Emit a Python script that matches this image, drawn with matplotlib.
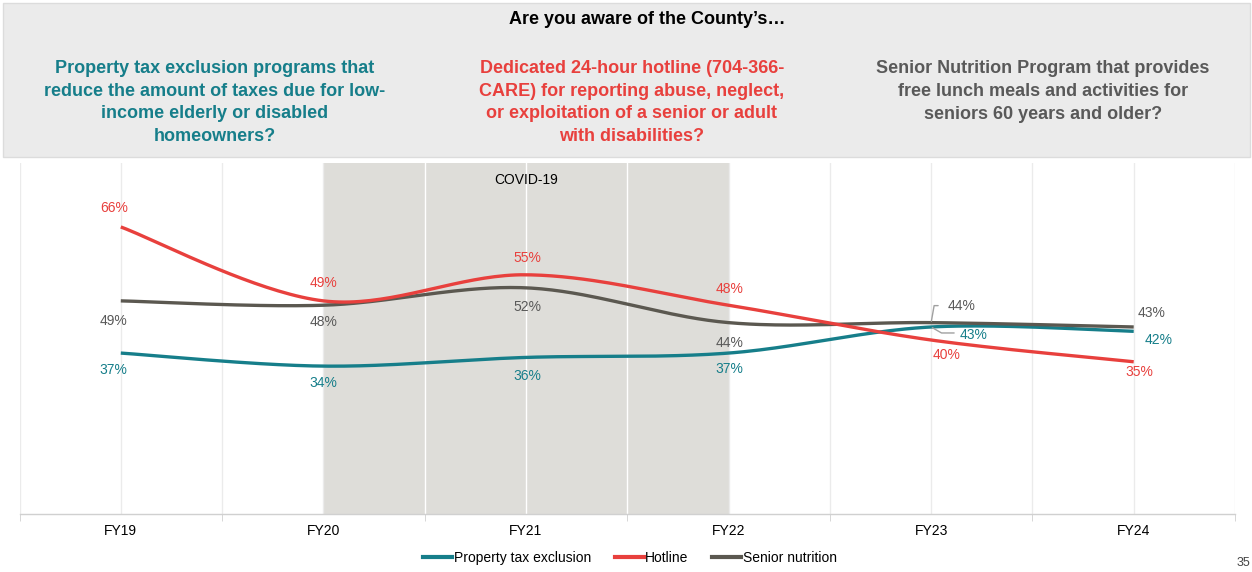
import numpy as np
import matplotlib
matplotlib.use("Agg")
import matplotlib.pyplot as plt
from matplotlib.patches import Rectangle
from matplotlib.lines import Line2D

plt.rcParams['font.family'] = ['Liberation Sans', 'DejaVu Sans']

# ---------------- data ----------------
years = ["FY19", "FY20", "FY21", "FY22", "FY23", "FY24"]
property_tax = [37, 34, 36, 37, 43, 42]
hotline = [66, 49, 55, 48, 40, 35]
senior_nutrition = [49, 48, 52, 44, 44, 43]
series_names = ["Property tax exclusion", "Hotline", "Senior nutrition"]
title = "Are you aware of the County\u2019s\u2026"
questions = [
    "Property tax exclusion programs that\nreduce the amount of taxes due for low-\nincome elderly or disabled\nhomeowners?",
    "Dedicated 24-hour hotline (704-366-\nCARE) for reporting abuse, neglect,\nor exploitation of a senior or adult\nwith disabilities?",
    "Senior Nutrition Program that provides\nfree lunch meals and activities for\nseniors 60 years and older?",
]
covid_label = "COVID-19"
covid_span = ("FY20", "FY22")
page_number = "35"

# ---------------- styles ----------------
TEAL = "#167E8A"
RED = "#E8403D"
GRAY = "#5B5850"
colors = [TEAL, RED, GRAY]
text_colors = [TEAL, RED, "#595959"]

# label offsets in pixels (dx, dy up)
offsets = {
    0: [(-7, -17), (0, -17), (1, -19), (1, -16), (42, -8), (25, -9)],
    1: [(-7, 19), (0, 18), (1, 17), (1, 16), (15, -15), (6, -10)],
    2: [(-7, -20), (0, -17), (1, -19), (1, -20), (30, 17), (18, 14)],
}


def smooth(xs, ys, n=40):
    """Excel-like smoothed line (Catmull-Rom as cubic Bezier)."""
    xs = np.asarray(xs, float)
    ys = np.asarray(ys, float)
    P = np.column_stack([xs, ys])
    out = []
    for i in range(len(P) - 1):
        p0 = P[i - 1] if i > 0 else P[i]
        p1 = P[i]
        p2 = P[i + 1]
        p3 = P[i + 2] if i + 2 < len(P) else P[i + 1]
        c1 = p1 + (p2 - p0) / 6.0
        c2 = p2 - (p3 - p1) / 6.0
        t = np.linspace(0, 1, n)[:, None]
        seg = ((1 - t) ** 3) * p1 + 3 * ((1 - t) ** 2) * t * c1 + 3 * (1 - t) * t ** 2 * c2 + t ** 3 * p2
        out.append(seg if i == 0 else seg[1:])
    out = np.vstack(out)
    return out[:, 0], out[:, 1]


W, H = 1252, 572
fig = plt.figure(figsize=(W / 100, H / 100), dpi=100)
fig.patch.set_facecolor("white")

# header box
fig.patches.append(Rectangle((3 / W, 1 - 157 / H), 1247 / W, 154 / H, transform=fig.transFigure,
                             facecolor="#EBEBEB", edgecolor="#DCDCDC", lw=1, zorder=0))
fig.text(647 / W, 1 - 19.5 / H, title, ha="center", va="center", fontsize=13, fontweight="bold", color="black")
q_x = [215, 632, 1043]
q_y = [102.5, 102.5, 91.5]
for q, x, y, c in zip(questions, q_x, q_y, text_colors):
    fig.text(x / W, 1 - y / H, q, ha="center", va="center", fontsize=13, fontweight="bold",
             color=c, linespacing=1.445)

# axes
ax = fig.add_axes([19.5 / W, 1 - 514 / H, 1215.5 / W, 351 / H])
ax.set_xlim(-0.5, len(years) - 0.5)
ax.set_ylim(0, 80.7)
x = np.arange(len(years))

s0, s1 = years.index(covid_span[0]), years.index(covid_span[1])
ax.axvspan(s0, s1, facecolor="#DEDDD9", edgecolor="none", zorder=0)
ax.text((s0 + s1) / 2, 78.5, covid_label, ha="center", va="top", fontsize=10, color="black")

grid_pos = np.arange(-0.5, len(years), 0.5)
for g in grid_pos:
    inside = s0 < g < s1
    ax.axvline(g, color="white" if inside else "#EBEBEB", lw=1, zorder=0.5)

for spine in ["top", "right", "left"]:
    ax.spines[spine].set_visible(False)
ax.spines["bottom"].set_color("#D0D0D0")
ax.spines["bottom"].set_linewidth(1)
ax.set_yticks([])
ax.set_xticks(x)
ax.set_xticklabels(years, fontsize=10, color="black")
ax.tick_params(axis="x", which="major", length=0, pad=7)
ax.set_xticks(np.arange(-0.5, len(years), 1), minor=True)
ax.tick_params(axis="x", which="minor", length=5, color="#D0D0D0")

data = [property_tax, hotline, senior_nutrition]
for k, (vals, c, name) in enumerate(zip(data, colors, series_names)):
    sx, sy = smooth(x, vals)
    ax.plot(sx, sy, color=c, lw=2.4, solid_capstyle="butt", zorder=3 + (k == 1) * 0.1, label=name)

for k, (vals, c) in enumerate(zip(data, text_colors)):
    for i, v in enumerate(vals):
        dx, dy = offsets[k][i]
        ax.annotate(f"{v}%", xy=(i, v), xytext=(dx, dy), textcoords="offset pixels",
                    ha="center", va="center", fontsize=10, color=c, zorder=5)

# leader lines for FY23 labels
i23 = years.index("FY23")
ax.annotate("", xy=(i23, senior_nutrition[i23]), xytext=(30 - 23, 17), textcoords="offset pixels",
            arrowprops=dict(arrowstyle="-", color="#A0A0A0", lw=1, shrinkA=0, shrinkB=1,
                            connectionstyle="angle,angleA=0,angleB=80,rad=0"))
ax.annotate("", xy=(i23, property_tax[i23]), xytext=(42 - 19, -6), textcoords="offset pixels",
            arrowprops=dict(arrowstyle="-", color="#A0A0A0", lw=1, shrinkA=0, shrinkB=1,
                            connectionstyle="angle,angleA=0,angleB=-30,rad=0"))

handles = [Line2D([0], [0], color=c, lw=3) for c in colors]
fig.legend(handles, series_names, loc="center", bbox_to_anchor=(630 / W, 1 - 558 / H), ncol=3,
           frameon=False, fontsize=10, handlelength=2.1, handletextpad=0.1, columnspacing=1.7)

fig.text(1243 / W, 1 - 563 / H, page_number, ha="center", va="center", fontsize=9, color="#444444")

fig.savefig("out.png", dpi=100)
